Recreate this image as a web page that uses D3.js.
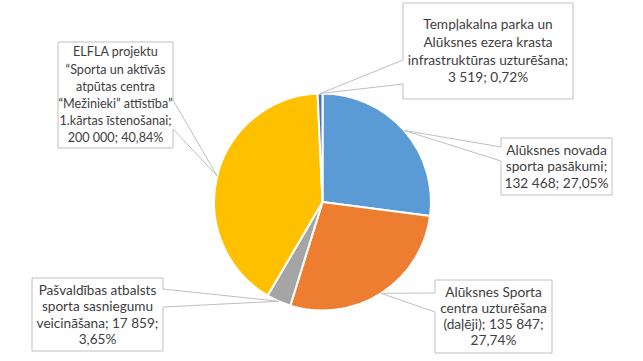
<!DOCTYPE html>
<html>
<head>
<meta charset="utf-8">
<script src="https://cdn.jsdelivr.net/npm/d3@7"></script>
<style>
    body { margin: 0; background: #fff; }
    svg { display: block; }
    .callout-text { font-family: Lato, "Open Sans", sans-serif; fill: #404040; }
</style>
</head>
<body>
<svg id="chart-area"></svg>
<script>
// data
const categories = [
    "Alūksnes novada sporta pasākumi",
    "Alūksnes Sporta centra uzturēšana (daļēji)",
    "Pašvaldības atbalsts sporta sasniegumu veicināšana",
    "ELFLA projektu “Sporta un aktīvās atpūtas centra “Mežinieki” attīstība” 1.kārtas īstenošanai",
    "Tempļakalna parka un Alūksnes ezera krasta infrastruktūras uzturēšana"
];
const values = [132468, 135847, 17859, 200000, 3519];
const valueLabels = ["132 468", "135 847", "17 859", "200 000", "3 519"];
const percentLabels = ["27,05%", "27,74%", "3,65%", "40,84%", "0,72%"];
const labelLines = [
    ["Alūksnes novada", "sporta pasākumi;", "132 468; 27,05%"],
    ["Alūksnes Sporta", "centra uzturēšana", "(daļēji); 135 847;", "27,74%"],
    ["Pašvaldības atbalsts", "sporta sasniegumu", "veicināšana; 17 859;", "3,65%"],
    ["ELFLA projektu", "“Sporta un aktīvās", "atpūtas centra", "“Mežinieki” attīstība”", "1.kārtas īstenošanai;", "200 000; 40,84%"],
    ["Tempļakalna parka un", "Alūksnes ezera krasta", "infrastruktūras uzturēšana;", "3 519; 0,72%"]
];
const colors = ["#5B9BD5", "#ED7D31", "#A5A5A5", "#FFC000", "#4472C4"];

// callout boxes: x0, y0, x1, y1, side of the pointer, pointer base (a, b)
const callouts = [
    { x0: 501, y0: 138, x1: 612, y1: 195, side: "left", a: 147, b: 161, size: 13.7, lh: 16.7 },
    { x0: 435, y0: 280, x1: 552, y1: 353, side: "left", a: 293, b: 312, size: 13.7, lh: 16 },
    { x0: 32, y0: 278, x1: 163, y1: 351, side: "right", a: 289, b: 307, size: 13.6, lh: 16.5 },
    { x0: 58, y0: 42, x1: 173, y1: 148, side: "right", a: 100, b: 129, size: 12.6, lh: 17.2 },
    { x0: 403, y0: 3, x1: 573, y1: 99, side: "left", a: 60, b: 84, size: 13.7, lh: 17.7 }
];

const width = 643;
const height = 361;
const cx = 322.5;
const cy = 202;
const radius = 108.5;

const svg = d3.select("#chart-area")
    .attr("width", width)
    .attr("height", height)
    .attr("viewBox", `0 0 ${width} ${height}`);

const pie = d3.pie().sort(null).value((d) => d);
const arcs = pie(values);
const arc = d3.arc().innerRadius(0).outerRadius(radius);
const edgeArc = d3.arc().innerRadius(radius).outerRadius(radius);

const g = svg.append("g").attr("transform", `translate(${cx},${cy})`);

g.selectAll("path.slice")
    .data(arcs)
    .enter()
    .append("path")
    .attr("class", "slice")
    .attr("d", arc)
    .attr("fill", (d, i) => colors[i])
    .attr("stroke", "#fff")
    .attr("stroke-width", 2)
    .attr("stroke-linejoin", "round");

// Function to build a box with a wedge pointing to the slice
function calloutPath(c, tip) {
    const p = d3.path();
    p.moveTo(c.x0, c.y0);
    p.lineTo(c.x1, c.y0);
    if (c.side === "right") {
        p.lineTo(c.x1, c.a);
        p.lineTo(tip[0], tip[1]);
        p.lineTo(c.x1, c.b);
    }
    p.lineTo(c.x1, c.y1);
    p.lineTo(c.x0, c.y1);
    if (c.side === "left") {
        p.lineTo(c.x0, c.b);
        p.lineTo(tip[0], tip[1]);
        p.lineTo(c.x0, c.a);
    }
    p.closePath();
    return p.toString();
}

arcs.forEach((d, i) => {
    const c = callouts[i];
    const pt = edgeArc.centroid(d);
    const tip = [cx + pt[0], cy + pt[1]];

    svg.append("path")
        .attr("d", calloutPath(c, tip))
        .attr("fill", "#fff")
        .attr("stroke", "#BFBFBF")
        .attr("stroke-width", 1);

    const lines = labelLines[i];
    const midY = (c.y0 + c.y1) / 2;
    const startY = midY - (lines.length - 1) * c.lh / 2;

    svg.append("text")
        .attr("class", "callout-text")
        .attr("font-size", c.size)
        .attr("text-anchor", "middle")
        .selectAll("tspan")
        .data(lines)
        .enter()
        .append("tspan")
        .attr("x", (c.x0 + c.x1) / 2)
        .attr("y", (t, j) => startY + j * c.lh)
        .attr("dy", "0.35em")
        .text((t) => t);
});
</script>
</body>
</html>
